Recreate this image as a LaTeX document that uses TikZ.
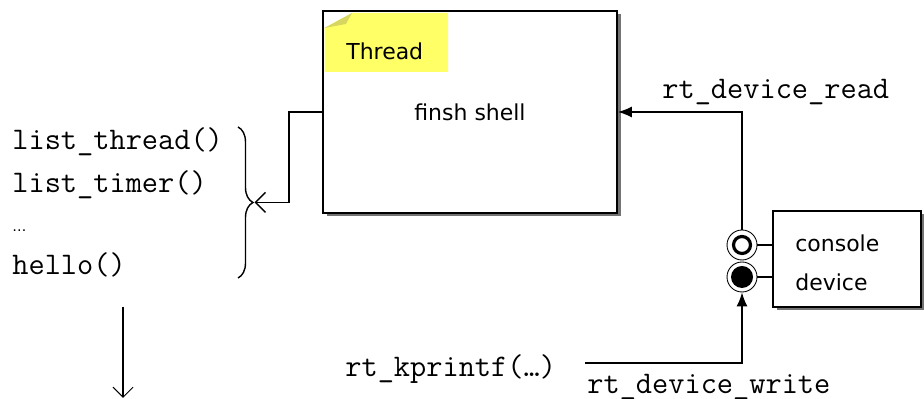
\documentclass[tikz,border=0pt]{standalone}
\usepackage{fontspec}
\setmainfont{DejaVu Sans}
\usepackage{tikz}
\usepackage{xcolor}
\usetikzlibrary{arrows.meta, positioning, decorations.pathreplacing, shadows, calc}
\definecolor{noteyellow}{RGB}{255,255,102}
\definecolor{notefold}{RGB}{214,214,96}

\begin{document}
\begin{tikzpicture}[>={Latex[length=2.8mm, width=2.2mm]},
    box/.style={draw, line width=1pt, fill=white,
        drop shadow={shadow xshift=0.07cm, shadow yshift=-0.07cm, fill=black!55, opacity=1}},
    code/.style={anchor=west, inner sep=0pt, font=\ttfamily\fontsize{17.9}{20}\selectfont},
    label/.style={anchor=west, inner sep=0pt, font=\fontsize{12.5}{15}\selectfont},
    link/.style={line width=0.8pt}]
    \useasboundingbox (0,0) rectangle (18.48,7.98);
    % thread box with its note
    \node[box, minimum width=5.88cm, minimum height=4.04cm, font=\fontsize{12.5}{15}\selectfont] (thread) at (9.40,5.74) {finsh shell};
    \fill[noteyellow] (6.49,7.42)--(7.04,7.72)--(8.96,7.72)--(8.96,6.54)--(6.49,6.54)--cycle;
    \fill[notefold] (6.49,7.42)--(7.04,7.72)--(6.92,7.50)--cycle;
    \node[label] (note) at (6.92,6.96) {Thread};
    % device box and its ports
    \node[box, minimum width=2.96cm, minimum height=1.92cm] (devbox) at (16.94,2.80) {};
    \node[label] (conlbl) at (15.90,3.12) {console};
    \node[label] (devlbl) at (15.90,2.34) {device};
    \node[circle, draw, line width=0.5pt, minimum size=0.6cm, inner sep=0pt] (conport) at (14.84,3.08) {};
    \node[circle, draw, line width=0.5pt, minimum size=0.6cm, inner sep=0pt] (devport) at (14.84,2.44) {};
    \draw[line width=1.8pt] (conport.center) circle(0.17);
    \fill[black] (devport.center) circle(0.22);
    \draw[link] (conport.east) -- (conport.east -| devbox.west);
    \draw[link] (devport.east) -- (devport.east -| devbox.west);
    % shell commands
    \node[code] (listthread) at (0.24,5.14) {list\_thread()};
    \node[code] (listtimer) at (0.24,4.28) {list\_timer()};
    \node[code, font=\fontsize{8}{10}\selectfont] (dots) at (0.24,3.36) {…};
    \node[code] (hello) at (0.24,2.68) {hello()};
    \draw[line width=0.8pt, decorate, decoration={brace, amplitude=0.3cm}] (4.76,5.44) -- (4.76,2.42) coordinate[midway] (bracemid);
    \coordinate (bracetip) at ($(bracemid)+(0.33,0)$);
    \draw[link, -{Straight Barb[length=2mm]}] (thread.west) -- ++(-0.66,0) |- (bracetip);
    % read and write paths
    \node[code] (readlbl) at (13.24,6.14) {rt\_device\_read};
    \node[code] (kprintf) at (6.90,0.60) {rt\_kprintf(\ldots)};
    \node[code] (writelbl) at (11.74,0.24) {rt\_device\_write};
    \coordinate (writestart) at (11.70,0.72);
    \draw[link, ->] (conport.north) |- (thread.east);
    \draw[link, ->] (writestart) -| (devport.south);
    \coordinate (downtop) at (2.46,1.84);
    \coordinate (downend) at (2.46,0.02);
    \draw[line width=0.6pt, -{Straight Barb[length=2mm]}] (downtop) -- (downend);
\end{tikzpicture}
\end{document}
